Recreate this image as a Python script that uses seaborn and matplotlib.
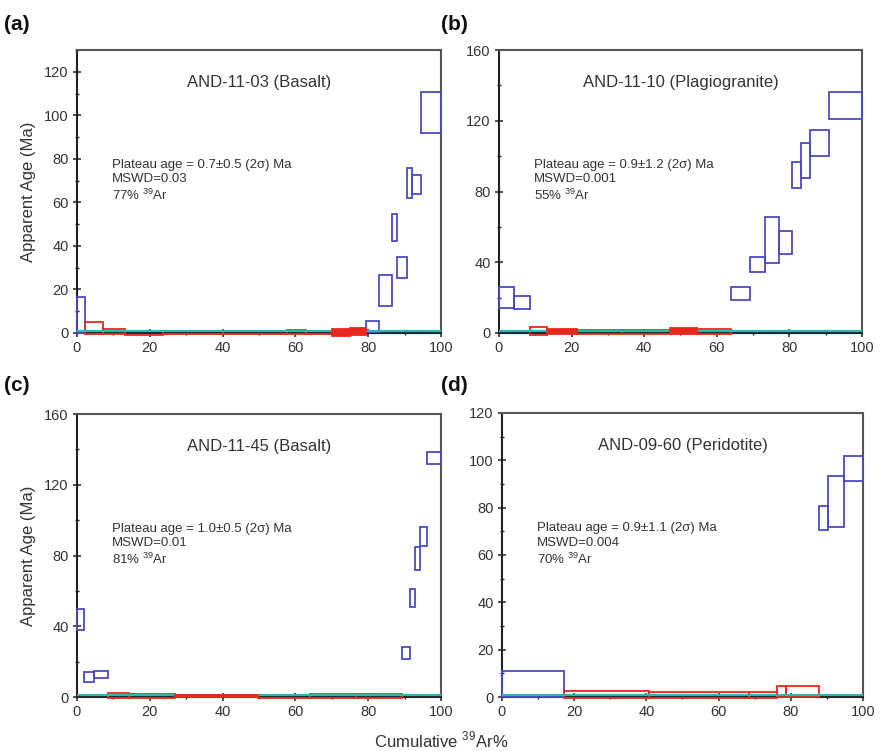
import numpy as np
import seaborn as sns
import matplotlib.pyplot as plt
from matplotlib.ticker import MultipleLocator

# ---- step data: cumulative 39Ar edges, age low/high, step type ----
# b = blue (excluded), r = red (plateau), rf = red filled
edges_a = [0, 2.2, 7.2, 13.2, 23.7, 40.2, 57.6, 62.8, 70, 75, 79.4, 83, 86.6, 88, 90.6, 92.1, 94.4, 100]
low_a = [0, -0.3, -0.3, -1, -0.4, -0.4, -0.6, -0.4, -1.2, -0.8, 0.4, 12.6, 42.4, 25.4, 61.9, 63.9, 91.8]
high_a = [16.4, 4.9, 1.7, 1.05, 0.9, 0.9, 1.4, 0.9, 1.7, 2.1, 5.3, 26.7, 54.7, 35.1, 75.7, 72.6, 110.9]
kind_a = ["b", "r", "r", "r", "r", "r", "r", "r", "rf", "rf", "b", "b", "b", "b", "b", "b", "b"]

edges_b = [0, 4.2, 8.5, 13.3, 21.4, 33.8, 47.1, 54.6, 63.8, 69.1, 73.3, 77.1, 80.6, 83.2, 85.6, 91, 100]
low_b = [14.3, 13.6, -1.1, -0.8, -0.6, -0.6, -0.8, -0.6, 18.6, 34.6, 39.4, 44.6, 81.7, 87.4, 100, 120.9]
high_b = [26.2, 20.9, 3.6, 2.4, 1.8, 1.8, 2.6, 2.1, 25.8, 43.1, 65.7, 57.8, 96.4, 107.2, 114.7, 136]
kind_b = ["b", "b", "r", "rf", "r", "r", "rf", "r", "b", "b", "b", "b", "b", "b", "b", "b"]

edges_c = [0, 1.9, 4.8, 8.4, 14.4, 26.9, 49.8, 64, 76.6, 89.2, 91.6, 93.0, 94.2, 96.1, 100]
low_c = [37.9, 8.6, 10.6, -0.6, -0.4, -0.2, -0.3, -0.4, -0.4, 21.7, 50.7, 71.8, 85.3, 131.5]
high_c = [49.7, 14.3, 14.9, 2.4, 1.7, 1.0, 1.3, 1.5, 1.5, 28.4, 60.8, 84.9, 95.9, 138.6]
kind_c = ["b", "b", "b", "r", "r", "rf", "r", "r", "r", "b", "b", "b", "b", "b"]

edges_d = [0, 17.3, 40.8, 68.5, 76.1, 78.7, 87.9, 90.4, 94.7, 100]
low_d = [0, -0.4, -0.3, -0.3, 0.1, 0.1, 70.6, 71.7, 91.4]
high_d = [11.1, 2.5, 2.2, 2.2, 4.6, 4.6, 80.8, 93.4, 102]
kind_d = ["b", "r", "r", "r", "r", "r", "b", "b", "b"]

samples = ["AND-11-03 (Basalt)", "AND-11-10 (Plagiogranite)", "AND-11-45 (Basalt)", "AND-09-60 (Peridotite)"]
plateau_age = [0.7, 0.9, 1.0, 0.9]
plateau_text = [
    "Plateau age = 0.7\u00b10.5 (2\u03c3) Ma\nMSWD=0.03\n77% $^{\\mathregular{39}}$Ar",
    "Plateau age = 0.9\u00b11.2 (2\u03c3) Ma\nMSWD=0.001\n55% $^{\\mathregular{39}}$Ar",
    "Plateau age = 1.0\u00b10.5 (2\u03c3) Ma\nMSWD=0.01\n81% $^{\\mathregular{39}}$Ar",
    "Plateau age = 0.9\u00b11.1 (2\u03c3) Ma\nMSWD=0.004\n70% $^{\\mathregular{39}}$Ar",
]
panel_tags = ["(a)", "(b)", "(c)", "(d)"]
ymax = [130, 160, 160, 120]
ystep = [20, 40, 40, 20]

sns.set_theme(style="ticks")
plt.rcParams["font.family"] = ["Liberation Sans", "DejaVu Sans"]
plt.rcParams["mathtext.fontset"] = "custom"
plt.rcParams["mathtext.rm"] = "Liberation Sans"

BLUE = "#4a4ac4"
RED = "#e8281e"
CYAN = "#27b8b4"
TXT = "#333333"

fig = plt.figure(figsize=(8.83, 7.51), dpi=100)
positions = [
    [0.0872, 0.5566, 0.4122, 0.3768],
    [0.5651, 0.5566, 0.4111, 0.3768],
    [0.0872, 0.0719, 0.4122, 0.3768],
    [0.5685, 0.0719, 0.4088, 0.3782],
]
data = [
    (edges_a, low_a, high_a, kind_a),
    (edges_b, low_b, high_b, kind_b),
    (edges_c, low_c, high_c, kind_c),
    (edges_d, low_d, high_d, kind_d),
]

for i, (edges, low, high, kind) in enumerate(data):
    ax = fig.add_axes(positions[i])
    x0 = np.array(edges[:-1])
    w = np.diff(edges)
    lo = np.array(low)
    hi = np.array(high)
    for j in range(len(w)):
        if kind[j] == "b":
            ax.bar(x0[j], hi[j] - lo[j], width=w[j], bottom=lo[j], align="edge",
                   facecolor="none", edgecolor=BLUE, linewidth=1.3, zorder=3, clip_on=False)
        elif kind[j] == "rf":
            ax.bar(x0[j], hi[j] - lo[j], width=w[j], bottom=lo[j], align="edge",
                   facecolor=RED, edgecolor=RED, linewidth=1.3, zorder=6, clip_on=False)
        else:
            ax.bar(x0[j], hi[j] - lo[j], width=w[j], bottom=lo[j], align="edge",
                   facecolor="none", edgecolor=RED, linewidth=1.3, zorder=3, clip_on=False)
    ax.axhline(plateau_age[i], color=CYAN, lw=1.6, zorder=4)

    ax.set_xlim(0, 100)
    ax.set_ylim(0, ymax[i])
    ax.xaxis.set_major_locator(MultipleLocator(20))
    ax.xaxis.set_minor_locator(MultipleLocator(10))
    ax.yaxis.set_major_locator(MultipleLocator(ystep[i]))
    ax.yaxis.set_minor_locator(MultipleLocator(ystep[i] / 2))
    ax.tick_params(which="major", direction="inout", length=6, width=1.1,
                   labelsize=10.5, labelcolor=TXT, color="#222222", pad=3)
    ax.tick_params(which="minor", direction="inout", length=3.5, width=1.0, color="#222222")
    for side in ["left", "bottom"]:
        ax.spines[side].set_color("#222222")
        ax.spines[side].set_linewidth(1.5)
    for side in ["top", "right"]:
        ax.spines[side].set_color("#555555")
        ax.spines[side].set_linewidth(1.5)

    ax.text(0.5, 0.885, samples[i], transform=ax.transAxes, ha="center", va="center",
            fontsize=12, color=TXT)
    ax.text(0.096, 0.615, plateau_text[i], transform=ax.transAxes, ha="left", va="top",
            fontsize=9.5, color=TXT, linespacing=1.25)
    if i in (0, 2):
        ax.set_ylabel("Apparent Age (Ma)", fontsize=12, color=TXT, labelpad=6)

tag_pos = [(0.005, 0.967), (0.5, 0.967), (0.005, 0.487), (0.5, 0.487)]
for tag, (tx, ty) in zip(panel_tags, tag_pos):
    fig.text(tx, ty, tag, fontsize=15, fontweight="bold", color="#111111", va="center", ha="left")

fig.text(0.5, 0.015, "Cumulative $^{\\mathregular{39}}$Ar%", ha="center", va="center",
         fontsize=12, color=TXT)

fig.savefig("out.png", dpi=100)
